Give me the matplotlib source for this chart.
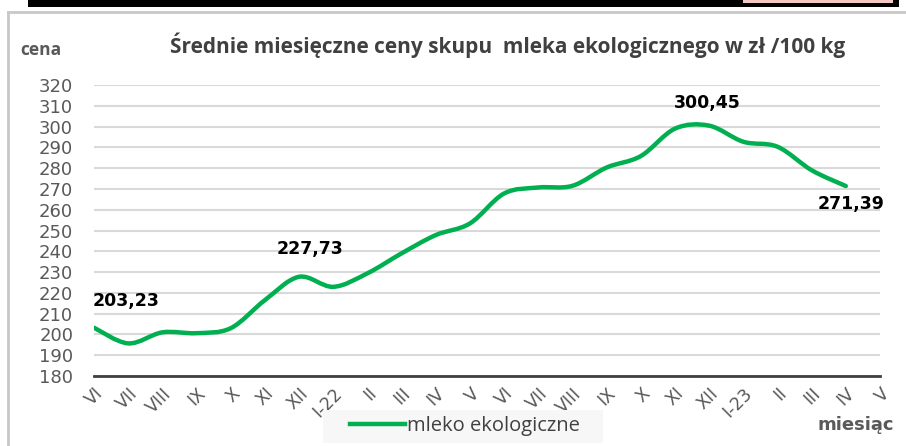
import numpy as np
import matplotlib.pyplot as plt
from matplotlib.path import Path
from matplotlib.patches import PathPatch, Rectangle
from matplotlib.lines import Line2D

# monthly categories VI 2021 .. V 2023
months = ["VI", "VII", "VIII", "IX", "X", "XI", "XII", "I-22", "II", "III", "IV", "V",
          "VI", "VII", "VIII", "IX", "X", "XI", "XII", "I-23", "II", "III", "IV", "V"]
# prices (zł / 100 kg); no value for the last month
prices = [203.23, 195.7, 201.0, 200.6, 203.0, 216.5, 227.73, 222.9, 229.4, 239.0,
          247.8, 253.4, 267.8, 270.7, 271.5, 280.3, 285.8, 299.0, 300.45, 292.7,
          290.3, 279.0, 271.39]
labelled = [0, 6, 18, 22]
yticks = list(range(180, 321, 10))

GREEN = "#00b050"
GRAY = "#595959"


def smooth_path(x, y):
    # Excel-like smoothed line: cubic Bezier segments through every point
    pts = np.column_stack([x, y])
    n = len(pts)
    verts = [pts[0]]
    codes = [Path.MOVETO]
    for i in range(n - 1):
        p0 = pts[max(i - 1, 0)]
        p1 = pts[i]
        p2 = pts[i + 1]
        p3 = pts[min(i + 2, n - 1)]
        c1 = p1 + (p2 - p0) / 6.0
        c2 = p2 - (p3 - p1) / 6.0
        verts += [c1, c2, p2]
        codes += [Path.CURVE4] * 3
    return Path(verts, codes)


fig = plt.figure(figsize=(9.06, 4.46), dpi=100)
ax = fig.add_axes([94 / 906, 70 / 446, 786 / 906, 291 / 446])

# decorations outside the chart: table remnant on top and chart frame
fig.patches.append(Rectangle((28 / 906, 439 / 446), 871 / 906, 7 / 446,
                             transform=fig.transFigure, facecolor="black", edgecolor="none"))
fig.patches.append(Rectangle((743 / 906, 443 / 446), 150 / 906, 3 / 446,
                             transform=fig.transFigure, facecolor="#f4c7c3", edgecolor="none"))
fig.add_artist(Line2D([8 / 906, 1], [434 / 446, 434 / 446], transform=fig.transFigure,
                      color="#c8c8c8", lw=2))
fig.add_artist(Line2D([8 / 906, 8 / 906], [0, 434 / 446], transform=fig.transFigure,
                      color="#c8c8c8", lw=2))

x = np.arange(len(prices))
ax.add_patch(PathPatch(smooth_path(x, prices), facecolor="none", edgecolor=GREEN,
                       lw=3.2, capstyle="round", joinstyle="round", zorder=3))

offsets = {0: (23, 19), 6: (8, 20), 18: (-1, 16), 22: (4, -13)}
for i in labelled:
    dx, dy = offsets[i]
    ax.annotate(f"{prices[i]:.2f}".replace(".", ","), (x[i], prices[i]),
                xytext=(dx, dy), textcoords="offset points", ha="center", va="center",
                fontsize=12.5, fontweight="bold", color="black", zorder=4)

ax.set_xlim(0, len(months) - 1)
ax.set_ylim(180, 320)
ax.set_yticks(yticks)
ax.set_yticklabels([str(v) for v in yticks], fontsize=13, color=GRAY)
ax.set_xticks(range(len(months)))
ax.set_xticklabels(months, rotation=45, ha="right", va="top", rotation_mode="anchor",
                   fontsize=12.5, color=GRAY)
ax.tick_params(axis="both", length=0)
ax.tick_params(axis="y", pad=15)
ax.tick_params(axis="x", pad=6)
ax.grid(axis="y", color="#d9d9d9", lw=1.5)
ax.set_axisbelow(True)
for s in ["top", "right", "left"]:
    ax.spines[s].set_visible(False)
ax.spines["bottom"].set_color("#404040")
ax.spines["bottom"].set_linewidth(2)

fig.text(508 / 906, 1 - 45 / 446, "Średnie miesięczne ceny skupu  mleka ekologicznego w zł /100 kg",
         ha="center", va="center", fontsize=15, fontweight="bold", color="#404040",
         family="Open Sans")
fig.text(41 / 906, 1 - 50 / 446, "cena", ha="center", va="center", fontsize=12.5,
         fontweight="bold", color=GRAY, family="Open Sans")
fig.text(856 / 906, 1 - 425 / 446, "miesiąc", ha="center", va="center", fontsize=13,
         fontweight="bold", color=GRAY)

# legend box
fig.patches.append(Rectangle((323 / 906, 3 / 446), 280 / 906, 33 / 446,
                             transform=fig.transFigure, facecolor="#f7f7f7", edgecolor="none"))
handle = Line2D([], [], color=GREEN, lw=3.2)
fig.legend([handle], ["mleko ekologiczne"], loc="center", bbox_to_anchor=(465 / 906, 19.5 / 446),
           frameon=False, handlelength=2.7, handletextpad=0.1,
           prop={"family": "Open Sans", "size": 14.5}, labelcolor="#404040")

fig.savefig("out.png", dpi=100)
